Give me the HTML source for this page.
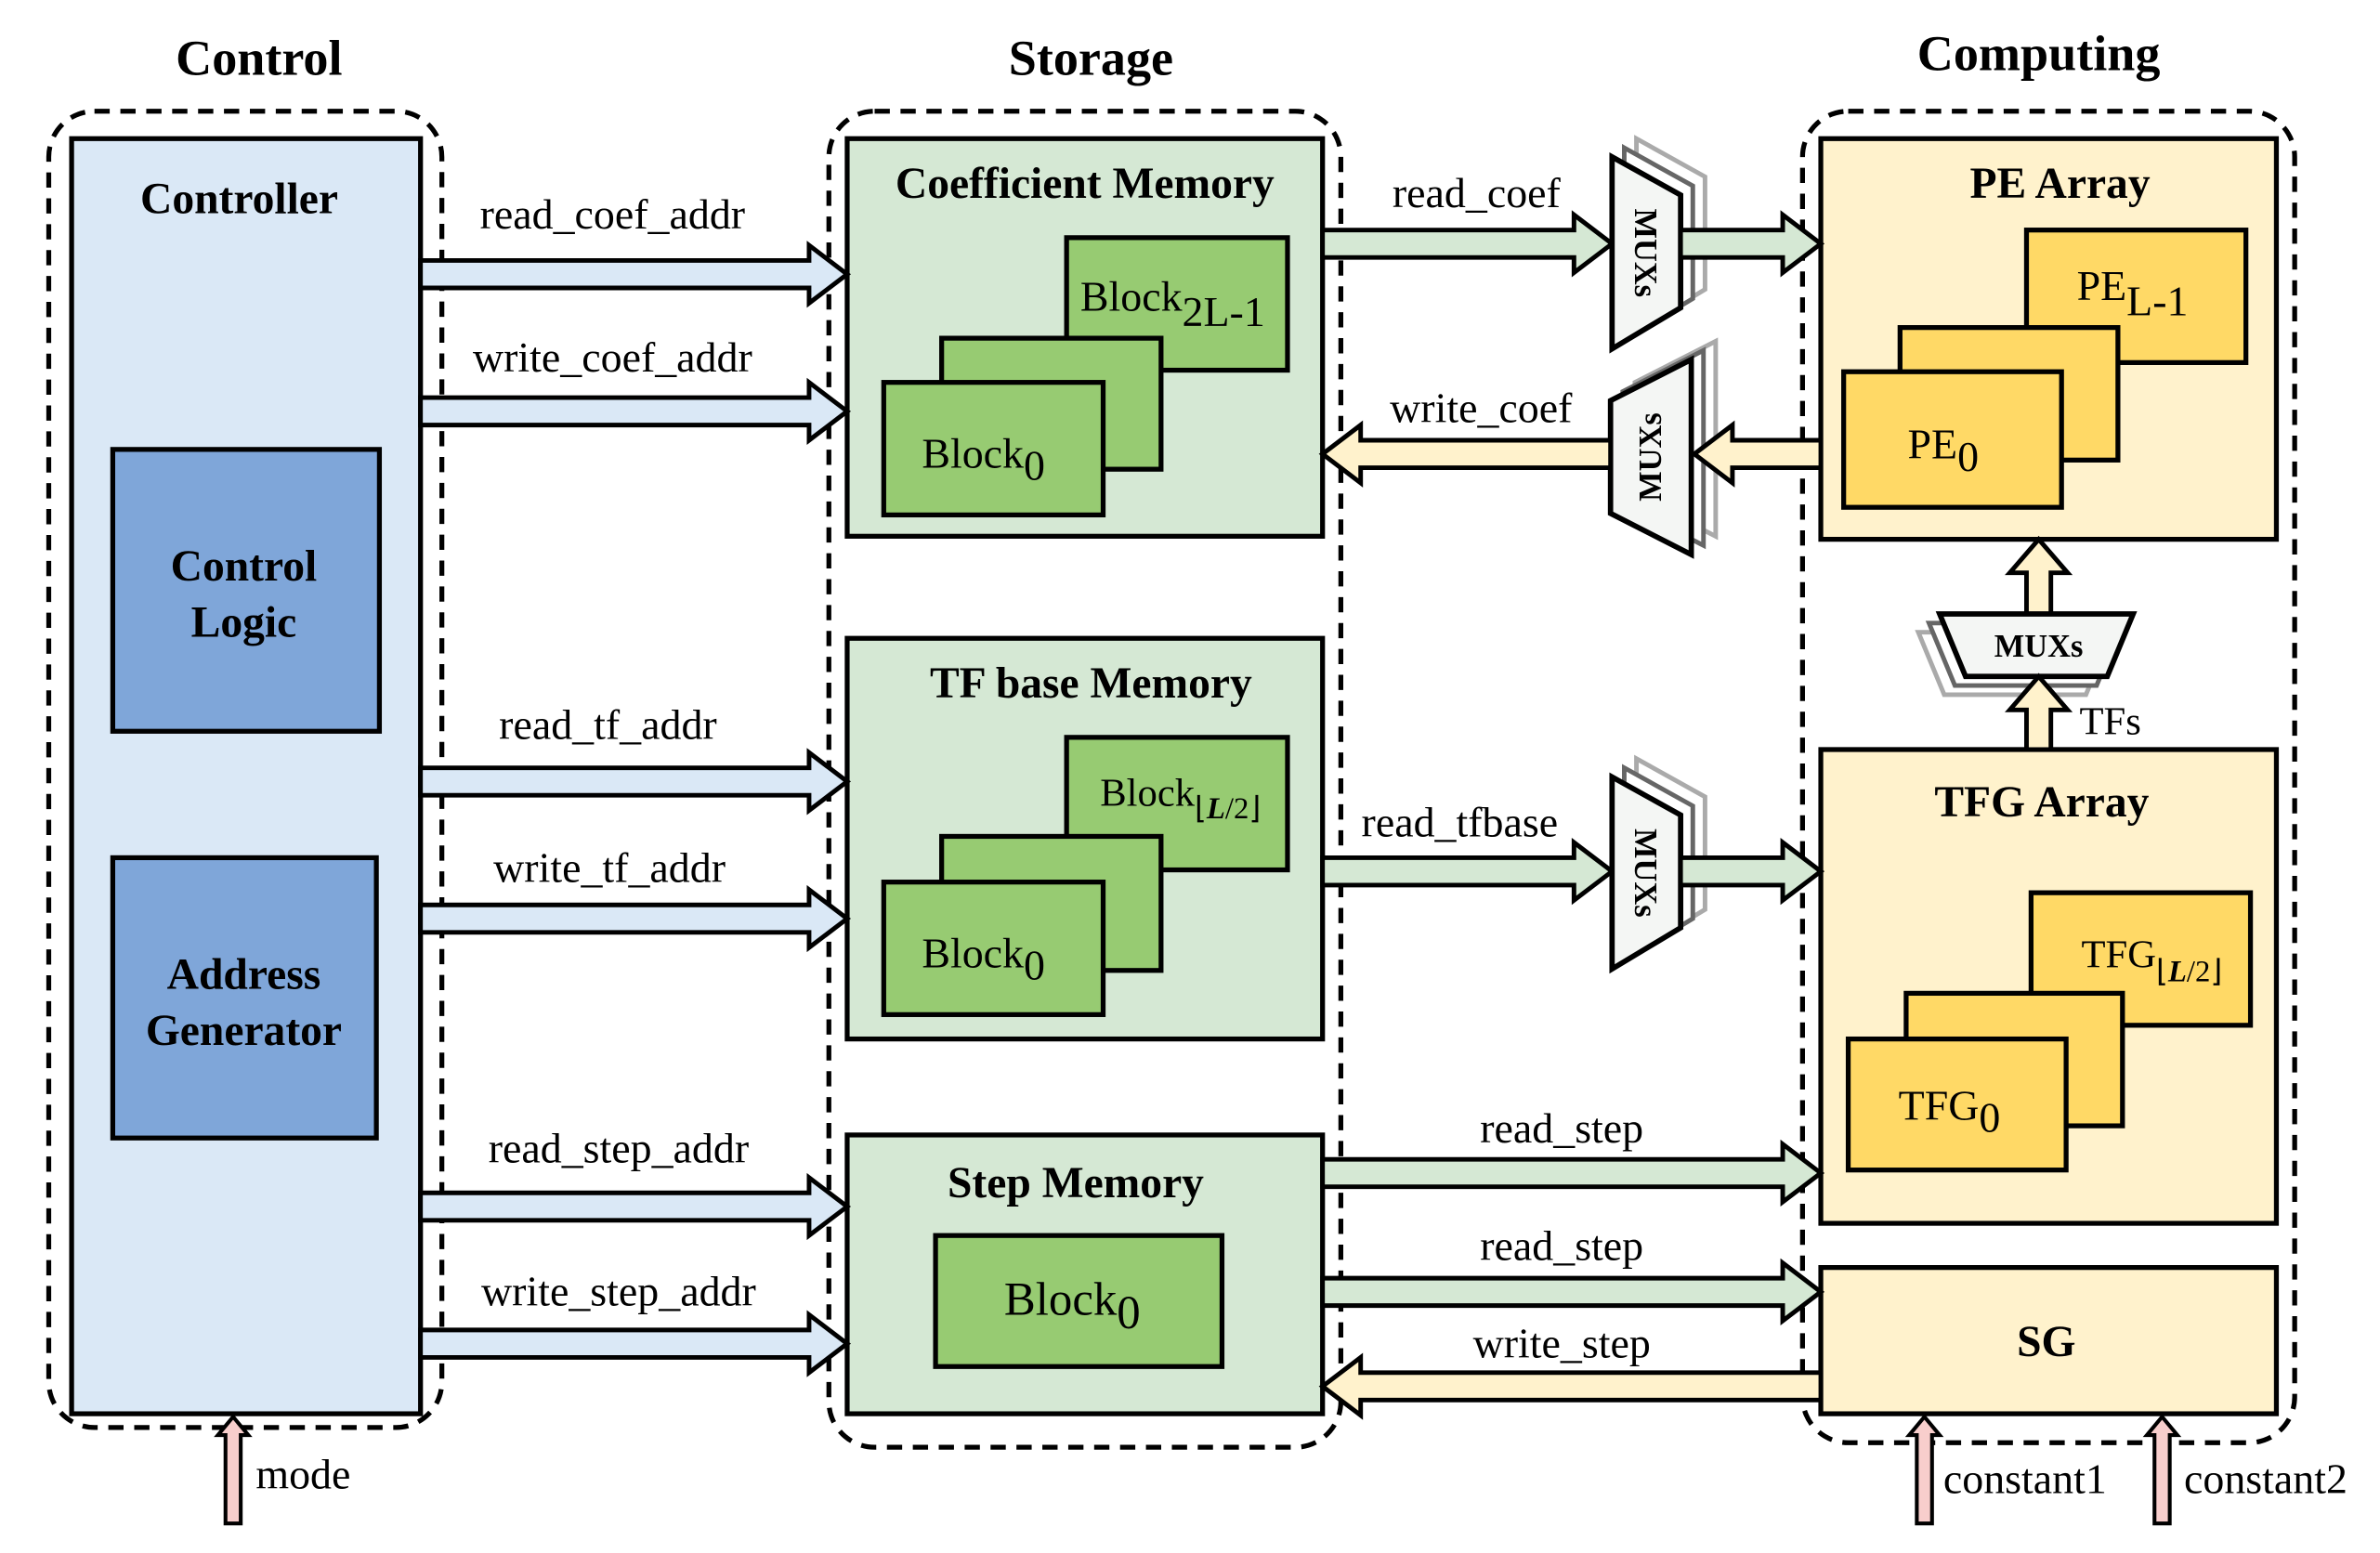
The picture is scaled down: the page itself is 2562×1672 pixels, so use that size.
<!DOCTYPE html>
<html><head><meta charset="utf-8"><style>
html,body{margin:0;padding:0;background:#fff;}
svg{display:block;}
text{font-family:"Liberation Serif",serif;fill:#000;}
.t{font-weight:bold;font-size:33px;text-anchor:middle;}
.h{font-weight:bold;font-size:29px;text-anchor:middle;}
.l{font-size:28px;text-anchor:middle;}
.b{font-size:28px;text-anchor:middle;}
.m{font-weight:bold;font-size:21px;text-anchor:middle;}
.box{stroke:#000;stroke-width:3.2;}
.dash{fill:none;stroke:#000;stroke-width:3.2;stroke-dasharray:10 7;}
.ab{fill:#dae8f6;stroke:#000;stroke-width:3;}
.ag{fill:#d5e8d4;stroke:#000;stroke-width:3;}
.ay{fill:#fff2cc;stroke:#000;stroke-width:3;}
.ap{fill:#f8cecc;stroke:#000;stroke-width:2.5;}
.mux{fill:#f4f6f4;stroke:#000;stroke-width:3.5;}
.s1{fill:#fff;stroke:#666;stroke-width:3;}
.s2{fill:#fff;stroke:#aaa;stroke-width:3;}
</style></head><body>
<svg width="2562" height="1672" viewBox="0 0 1562 1019.4" preserveAspectRatio="none" xmlns="http://www.w3.org/2000/svg">
<text class="t" x="170" y="49">Control</text>
<text class="t" x="716" y="49">Storage</text>
<text class="t" x="1338" y="46">Computing</text>

<rect class="dash" x="32" y="73" width="258" height="864" rx="30"/>
<rect class="dash" x="544" y="73" width="336" height="877" rx="30"/>
<rect class="dash" x="1183" y="73" width="323" height="874" rx="30"/>

<rect class="box" x="47" y="91" width="229" height="837" fill="#dae8f6"/>
<text class="h" x="157" y="140">Controller</text>
<rect class="box" x="74" y="295" width="175" height="185" fill="#7fa6d9"/>
<text class="h" x="160" y="381">Control</text>
<text class="h" x="160" y="418">Logic</text>
<rect class="box" x="74" y="563" width="173" height="184" fill="#7fa6d9"/>
<text class="h" x="160" y="649">Address</text>
<text class="h" x="160" y="686">Generator</text>

<rect class="box" x="556" y="91" width="312" height="261" fill="#d5e8d4"/>
<text class="h" x="712" y="130">Coefficient Memory</text>
<rect class="box" x="700" y="156" width="145" height="87" fill="#97cb72"/>
<rect class="box" x="618" y="222" width="144" height="86" fill="#97cb72"/>
<rect class="box" x="580" y="251" width="144" height="87" fill="#97cb72"/>
<text class="b" x="709" y="204" style="text-anchor:start">Block<tspan dy="10">2L-1</tspan></text>
<text class="b" x="605" y="307" style="text-anchor:start">Block<tspan dy="8">0</tspan></text>

<rect class="box" x="556" y="419" width="312" height="263" fill="#d5e8d4"/>
<text class="h" x="716" y="458">TF base Memory</text>
<rect class="box" x="700" y="484" width="145" height="87" fill="#97cb72"/>
<rect class="box" x="618" y="549" width="144" height="88" fill="#97cb72"/>
<rect class="box" x="580" y="579" width="144" height="87" fill="#97cb72"/>
<text class="b" x="722" y="529" style="text-anchor:start;font-size:26px">Block<tspan dy="8" font-size="20">⌊<tspan font-style="italic" font-weight="bold">L</tspan>/2⌋</tspan></text>
<text class="b" x="605" y="635" style="text-anchor:start">Block<tspan dy="8">0</tspan></text>

<rect class="box" x="556" y="745" width="312" height="183" fill="#d5e8d4"/>
<text class="h" x="706" y="786">Step Memory</text>
<rect class="box" x="614" y="811" width="188" height="86" fill="#97cb72"/>
<text class="b" x="659" y="863" style="text-anchor:start;font-size:31px">Block<tspan dy="9">0</tspan></text>

<rect class="box" x="1195" y="91" width="299" height="263" fill="#fff2cc"/>
<text class="h" x="1352" y="130">PE Array</text>
<rect class="box" x="1330" y="151" width="144" height="87" fill="#ffd966"/>
<rect class="box" x="1247" y="215" width="143" height="87" fill="#ffd966"/>
<rect class="box" x="1210" y="244" width="143" height="89" fill="#ffd966"/>
<text class="b" x="1363" y="197" style="text-anchor:start">PE<tspan dy="10">L-1</tspan></text>
<text class="b" x="1252" y="301" style="text-anchor:start">PE<tspan dy="8">0</tspan></text>

<rect class="box" x="1195" y="492" width="299" height="311" fill="#fff2cc"/>
<text class="h" x="1340" y="536">TFG Array</text>
<rect class="box" x="1333" y="586" width="144" height="87" fill="#ffd966"/>
<rect class="box" x="1251" y="652" width="142" height="87" fill="#ffd966"/>
<rect class="box" x="1213" y="682" width="143" height="86" fill="#ffd966"/>
<text class="b" x="1366" y="635" style="text-anchor:start;font-size:26px">TFG<tspan dy="9" font-size="20">⌊<tspan font-style="italic" font-weight="bold">L</tspan>/2⌋</tspan></text>
<text class="b" x="1246" y="735" style="text-anchor:start">TFG<tspan dy="8">0</tspan></text>

<rect class="box" x="1195" y="832" width="299" height="96" fill="#fff2cc"/>
<text class="h" x="1343" y="890">SG</text>

<polygon class="ab" points="276,171 531,171 531,161 556,180 531,199 531,189 276,189"/>
<polygon class="ab" points="276,261 531,261 531,251 556,270 531,289 531,279 276,279"/>
<polygon class="ab" points="276,504 531,504 531,494 556,513 531,532 531,522 276,522"/>
<polygon class="ab" points="276,594 531,594 531,584 556,603 531,622 531,612 276,612"/>
<polygon class="ab" points="276,783 531,783 531,773 556,792 531,811 531,801 276,801"/>
<polygon class="ab" points="276,873 531,873 531,863 556,882 531,901 531,891 276,891"/>
<text class="l" x="402" y="150">read_coef_addr</text>
<text class="l" x="402" y="244">write_coef_addr</text>
<text class="l" x="399" y="485">read_tf_addr</text>
<text class="l" x="400" y="579">write_tf_addr</text>
<text class="l" x="406" y="763">read_step_addr</text>
<text class="l" x="406" y="857">write_step_addr</text>

<polygon class="ag" points="868,151 1033,151 1033,141 1058,160 1033,179 1033,169 868,169"/>
<polygon class="s2" points="1074,91 1119,116 1119,190 1074,217"/>
<polygon class="s1" points="1066,97 1111,122 1111,196 1066,223"/>
<polygon class="mux" points="1058,103 1103,128 1103,202 1058,229"/>
<text class="m" transform="translate(1073,166) rotate(90)">MUXs</text>
<polygon class="ag" points="1103,151 1170,151 1170,141 1195,160 1170,179 1170,169 1103,169"/>
<text class="l" x="969" y="136">read_coef</text>

<polygon class="s2" points="1073,251 1126,224 1126,352 1073,325"/>
<polygon class="s1" points="1065,257 1118,230 1118,358 1065,331"/>
<polygon class="mux" points="1057,263 1110,236 1110,364 1057,337"/>
<text class="m" transform="translate(1090,300) rotate(-90)">MUXs</text>
<polygon class="ay" points="1195,289 1137,289 1137,279 1112,298 1137,317 1137,307 1195,307"/>
<polygon class="ay" points="1057,289 893,289 893,279 868,298 893,317 893,307 1057,307"/>
<text class="l" x="972" y="277">write_coef</text>

<polygon class="ag" points="868,563 1033,563 1033,553 1058,572 1033,591 1033,581 868,581"/>
<polygon class="s2" points="1074,498 1119,523 1119,597 1074,624"/>
<polygon class="s1" points="1066,504 1111,529 1111,603 1066,630"/>
<polygon class="mux" points="1058,510 1103,535 1103,609 1058,636"/>
<text class="m" transform="translate(1073,573) rotate(90)">MUXs</text>
<polygon class="ag" points="1103,563 1170,563 1170,553 1195,572 1170,591 1170,581 1103,581"/>
<text class="l" x="958" y="549">read_tfbase</text>

<polygon class="ay" points="1330,403 1330,376 1319,376 1338,354 1357,376 1346,376 1346,403"/>
<polygon class="s2" points="1259,415 1386,415 1369,456 1276,456"/>
<polygon class="s1" points="1266,409 1393,409 1376,450 1283,450"/>
<polygon class="mux" points="1273,403 1400,403 1383,444 1290,444"/>
<text class="m" x="1338" y="431">MUXs</text>
<polygon class="ay" points="1330,492 1330,466 1319,466 1338,444 1357,466 1346,466 1346,492"/>
<text class="l" x="1385" y="482" style="font-size:26px">TFs</text>

<polygon class="ag" points="868,761 1170,761 1170,751 1195,770 1170,789 1170,779 868,779"/>
<polygon class="ag" points="868,839 1170,839 1170,829 1195,848 1170,867 1170,857 868,857"/>
<polygon class="ay" points="1195,901 893,901 893,891 868,910 893,929 893,919 1195,919"/>
<text class="l" x="1025" y="750">read_step</text>
<text class="l" x="1025" y="827">read_step</text>
<text class="l" x="1025" y="891">write_step</text>

<polygon class="ap" points="148,1000 148,942 143,942 153,930 163,942 158,942 158,1000"/>
<text class="l" x="199" y="977">mode</text>
<polygon class="ap" points="1258,1000 1258,942 1253,942 1263,930 1273,942 1268,942 1268,1000"/>
<text class="l" x="1329" y="980">constant1</text>
<polygon class="ap" points="1414,1000 1414,942 1409,942 1419,930 1429,942 1424,942 1424,1000"/>
<text class="l" x="1487" y="980">constant2</text>
</svg>
</body></html>
